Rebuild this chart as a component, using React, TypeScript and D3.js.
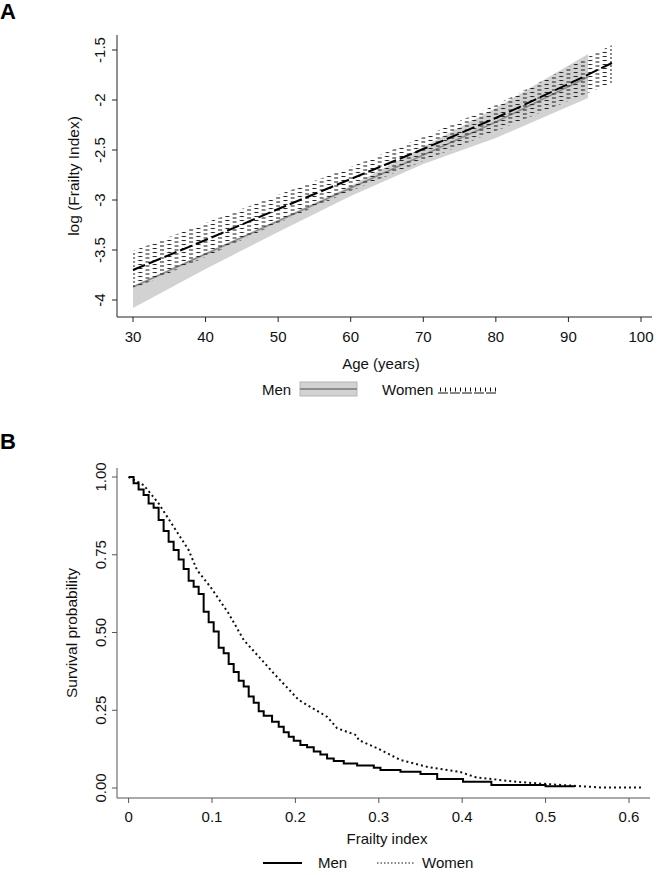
import React from "react";
import * as d3 from "d3";

// ---------- Panel A data ----------
const menAges = [30, 40, 50, 60, 70, 80, 92.7];
const menFit = [-3.87, -3.54, -3.21, -2.88, -2.55, -2.22, -1.77];
const menLo = [-4.08, -3.69, -3.32, -2.96, -2.64, -2.38, -1.98];
const menHi = [-3.86, -3.53, -3.2, -2.86, -2.47, -2.08, -1.54];

const womenAges = [30, 40, 50, 60, 70, 80, 90, 96];
const womenFit = [-3.7, -3.4, -3.09, -2.79, -2.49, -2.18, -1.84, -1.63];
const womenLo = [-3.89, -3.57, -3.23, -2.91, -2.61, -2.31, -2.01, -1.83];
const womenHi = [-3.51, -3.23, -2.95, -2.67, -2.37, -2.05, -1.67, -1.45];

const ageTicks = [30, 40, 50, 60, 70, 80, 90, 100];
const logTicks = [-4, -3.5, -3, -2.5, -2, -1.5];
const logTickLabels = ["-4", "-3.5", "-3", "-2.5", "-2", "-1.5"];

// ---------- Panel B data ----------
const menFI = [0, 0.006, 0.012, 0.018, 0.024, 0.03, 0.036, 0.042, 0.048, 0.054, 0.06, 0.066, 0.072, 0.078, 0.084, 0.09, 0.096, 0.102, 0.108, 0.114, 0.12, 0.126, 0.132, 0.138, 0.144, 0.15, 0.156, 0.162, 0.172, 0.18, 0.186, 0.192, 0.198, 0.206, 0.214, 0.222, 0.23, 0.238, 0.246, 0.258, 0.274, 0.294, 0.302, 0.326, 0.35, 0.37, 0.401, 0.435, 0.5, 0.535];
const menSurv = [1.0, 0.98, 0.96, 0.942, 0.915, 0.901, 0.862, 0.826, 0.792, 0.765, 0.735, 0.704, 0.666, 0.647, 0.624, 0.567, 0.533, 0.503, 0.451, 0.433, 0.399, 0.373, 0.345, 0.326, 0.294, 0.274, 0.247, 0.232, 0.213, 0.197, 0.179, 0.165, 0.152, 0.138, 0.131, 0.117, 0.108, 0.095, 0.087, 0.079, 0.072, 0.065, 0.058, 0.052, 0.045, 0.029, 0.02, 0.01, 0.006, 0.006];

const womenFI = [0, 0.018, 0.036, 0.054, 0.072, 0.082, 0.098, 0.12, 0.138, 0.174, 0.204, 0.238, 0.25, 0.273, 0.276, 0.298, 0.326, 0.358, 0.397, 0.417, 0.465, 0.505, 0.565, 0.617];
const womenSurv = [1.0, 0.974, 0.915, 0.84, 0.765, 0.701, 0.647, 0.561, 0.476, 0.369, 0.283, 0.229, 0.192, 0.17, 0.154, 0.128, 0.09, 0.068, 0.052, 0.034, 0.02, 0.012, 0.002, 0.002];

const fiTicks = [0, 0.1, 0.2, 0.3, 0.4, 0.5, 0.6];
const fiTickLabels = ["0", "0.1", "0.2", "0.3", "0.4", "0.5", "0.6"];
const survTicks = [0, 0.25, 0.5, 0.75, 1];
const survTickLabels = ["0.00", "0.25", "0.50", "0.75", "1.00"];

const FONT = "Liberation Sans, Arial, Helvetica, sans-serif";

export default function App() {
  // Panel A scales
  const xA = d3.scaleLinear().domain([30, 100]).range([133, 641]);
  const yA = d3.scaleLinear().domain([-4, -1.5]).range([300, 50]);
  const axA = { left: 117, top: 35, bottom: 317, right: 652 };

  const menBand = menAges.map((a, i) => ({ a, lo: menLo[i], hi: menHi[i], fit: menFit[i] }));
  const womenBand = womenAges.map((a, i) => ({ a, lo: womenLo[i], hi: womenHi[i], fit: womenFit[i] }));

  const areaA = d3
    .area<any>()
    .x((d) => xA(d.a))
    .y0((d) => yA(d.lo))
    .y1((d) => yA(d.hi));
  const lineA = d3
    .line<any>()
    .x((d) => xA(d.a))
    .y((d) => yA(d.fit));

  // Panel B scales
  const xB = d3.scaleLinear().domain([0, 0.6]).range([128.6, 629]);
  const yB = d3.scaleLinear().domain([0, 1]).range([788, 477]);
  const axB = { left: 117, top: 468, bottom: 798, right: 650 };

  const menKM = menFI.map((f, i) => [f, menSurv[i]] as [number, number]);
  const womenKM = womenFI.map((f, i) => [f, womenSurv[i]] as [number, number]);
  const stepLine = d3
    .line<[number, number]>()
    .x((d) => xB(d[0]))
    .y((d) => yB(d[1]))
    .curve(d3.curveStepAfter);
  const smoothLine = d3
    .line<[number, number]>()
    .x((d) => xB(d[0]))
    .y((d) => yB(d[1]));

  const patW = xA(31) - xA(30);
  const patX = xA(30) - 2;

  return (
    <svg
      width={657}
      height={875}
      style={{ position: "absolute", left: 0, top: 0, background: "#fff" }}
      fontFamily={FONT}
    >
      <defs>
        <pattern id="wdash" patternUnits="userSpaceOnUse" x={patX} y={0} width={patW * 2} height={8}>
          <line x1={0} x2={4} y1={2} y2={2} stroke="#262626" strokeWidth={1.1} />
          <line x1={patW} x2={patW + 4} y1={0.5} y2={0.5} stroke="#262626" strokeWidth={1.1} />
          <line x1={0} x2={4} y1={6} y2={6} stroke="#262626" strokeWidth={1.1} />
          <line x1={patW} x2={patW + 4} y1={4.5} y2={4.5} stroke="#262626" strokeWidth={1.1} />
        </pattern>
      </defs>
      <rect x={0} y={0} width={657} height={875} fill="#fff" />

      {/* ---------- Panel A ---------- */}
      <text x={0} y={19} fontSize={22} fontWeight="bold" fill="#000">A</text>

      <path d={areaA(menBand) || ""} fill="#d2d2d2" stroke="none" />
      <path d={lineA(menBand) || ""} fill="none" stroke="#8c8c8c" strokeWidth={1.6} />
      <path d={areaA(womenBand) || ""} fill="url(#wdash)" stroke="none" />
      <path d={lineA(womenBand) || ""} fill="none" stroke="#000" strokeWidth={2} strokeDasharray="13,4" />

      {/* axes A */}
      <line x1={axA.left} x2={axA.left} y1={axA.top} y2={axA.bottom} stroke="#222" strokeWidth={1} />
      <line x1={axA.left} x2={axA.right} y1={axA.bottom} y2={axA.bottom} stroke="#222" strokeWidth={1} />
      {logTicks.map((t, i) => (
        <g key={"ly" + t}>
          <line x1={axA.left - 5} x2={axA.left} y1={yA(t)} y2={yA(t)} stroke="#222" />
          <text
            transform={`translate(105,${yA(t)}) rotate(-90)`}
            textAnchor="middle"
            fontSize={15}
            fill="#111"
          >
            {logTickLabels[i]}
          </text>
        </g>
      ))}
      {ageTicks.map((t) => (
        <g key={"ax" + t}>
          <line x1={xA(t)} x2={xA(t)} y1={axA.bottom} y2={axA.bottom + 5} stroke="#222" />
          <text x={xA(t)} y={342} textAnchor="middle" fontSize={15} fill="#111">
            {t}
          </text>
        </g>
      ))}
      <text x={381} y={369} textAnchor="middle" fontSize={15} fill="#111">
        Age (years)
      </text>
      <text transform={`translate(79,176) rotate(-90)`} textAnchor="middle" fontSize={15.5} fill="#111">
        log (Frailty Index)
      </text>

      {/* legend A */}
      <text x={262} y={395} fontSize={15} fill="#111">Men</text>
      <rect x={300} y={382} width={57} height={14} fill="#d2d2d2" stroke="#b5b5b5" strokeWidth={1} />
      <line x1={300} x2={357} y1={389} y2={389} stroke="#8c8c8c" strokeWidth={2} />
      <text x={382} y={395} fontSize={15} fill="#111">Women</text>
      <line x1={438} x2={498} y1={393} y2={393} stroke="#111" strokeWidth={1.2} strokeDasharray="10,2" />
      <line x1={440} x2={496} y1={389.5} y2={389.5} stroke="#111" strokeWidth={4} strokeDasharray="1,4" />

      {/* ---------- Panel B ---------- */}
      <text x={0} y={449} fontSize={22} fontWeight="bold" fill="#000">B</text>

      <path d={smoothLine(womenKM) || ""} fill="none" stroke="#111" strokeWidth={2} strokeDasharray="2,3" />
      <path d={stepLine(menKM) || ""} fill="none" stroke="#000" strokeWidth={2} />

      {/* axes B */}
      <line x1={axB.left} x2={axB.left} y1={axB.top} y2={axB.bottom} stroke="#555" strokeWidth={1} />
      <line x1={axB.left} x2={axB.right} y1={axB.bottom} y2={axB.bottom} stroke="#555" strokeWidth={1} />
      {survTicks.map((t, i) => (
        <g key={"sy" + t}>
          <line x1={axB.left - 5} x2={axB.left} y1={yB(t)} y2={yB(t)} stroke="#555" />
          <text
            transform={`translate(106,${yB(t)}) rotate(-90)`}
            textAnchor="middle"
            fontSize={15}
            fill="#111"
          >
            {survTickLabels[i]}
          </text>
        </g>
      ))}
      {fiTicks.map((t, i) => (
        <g key={"fx" + t}>
          <line x1={xB(t)} x2={xB(t)} y1={axB.bottom} y2={axB.bottom + 5} stroke="#555" />
          <text x={xB(t)} y={822} textAnchor="middle" fontSize={15} fill="#111">
            {fiTickLabels[i]}
          </text>
        </g>
      ))}
      <text x={387} y={844} textAnchor="middle" fontSize={15} fill="#111">
        Frailty index
      </text>
      <text transform={`translate(77,633) rotate(-90)`} textAnchor="middle" fontSize={15.5} fill="#111">
        Survival probability
      </text>

      {/* legend B */}
      <line x1={263} x2={302} y1={863} y2={863} stroke="#000" strokeWidth={2} />
      <text x={318} y={868} fontSize={15} fill="#111">Men</text>
      <line x1={377} x2={415} y1={863} y2={863} stroke="#111" strokeWidth={1.2} strokeDasharray="1.5,2" />
      <text x={422} y={868} fontSize={15} fill="#111">Women</text>
    </svg>
  );
}
